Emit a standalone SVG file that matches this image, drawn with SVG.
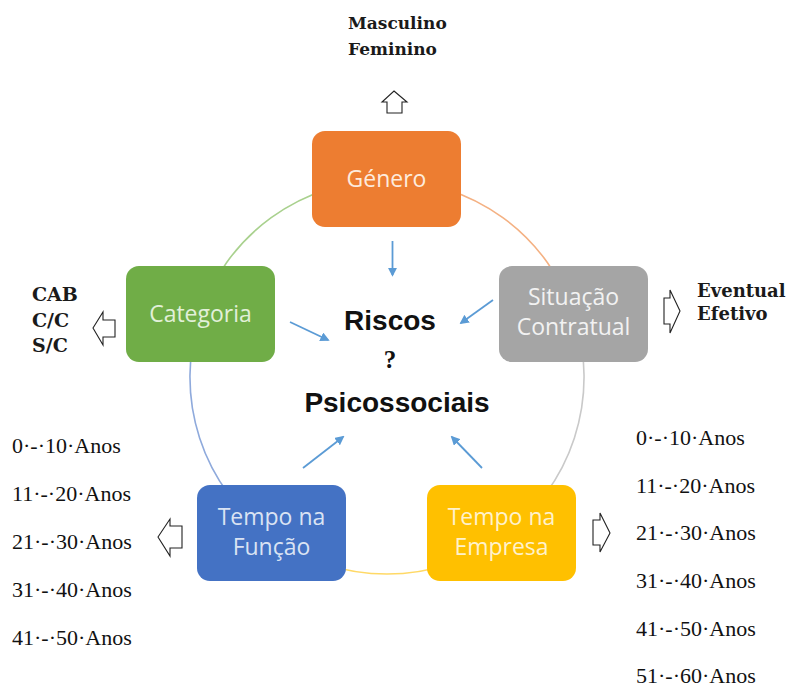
<svg xmlns="http://www.w3.org/2000/svg" width="788" height="688" viewBox="0 0 788 688">
<style>
.box{stroke:none}
.lbl{font-family:"Open Sans","Liberation Sans",sans-serif;font-size:23px;text-anchor:middle}
.arc{fill:none;stroke-width:1.6}
.flow{stroke:#5B9BD5;stroke-width:1.8;fill:none;marker-end:url(#ah)}
.blk{fill:#fff;stroke:#222;stroke-width:1.1;stroke-linejoin:miter}
.bs{font-family:"DejaVu Serif","Liberation Serif",serif;font-weight:bold;fill:#1a1a1a}
.yr{font-family:"Liberation Serif","Times New Roman",serif;font-size:22px;fill:#111}
.ctr{font-family:"Liberation Sans",Arial,sans-serif;font-weight:bold;font-size:28px;fill:#111;text-anchor:middle}
</style>
<defs>
<marker id="ah" viewBox="0 0 10 10" refX="8" refY="5" markerWidth="5.2" markerHeight="5.2" orient="auto" markerUnits="strokeWidth">
<path d="M0,0 L10,5 L0,10 z" fill="#5B9BD5"/>
</marker>
</defs>
<rect width="788" height="688" fill="#fff"/>
<g id="connectors">
<path class="arc" stroke="#F4B183" d="M387 180 A197 197 0 0 1 574.4 316.1"/>
<path class="arc" stroke="#C9C9C9" d="M574.4 316.1 A197 197 0 0 1 502.8 536.4"/>
<path class="arc" stroke="#FFD966" d="M502.8 536.4 A197 197 0 0 1 271.2 536.4"/>
<path class="arc" stroke="#8FAADC" d="M271.2 536.4 A197 197 0 0 1 199.6 316.1"/>
<path class="arc" stroke="#A9D18E" d="M199.6 316.1 A197 197 0 0 1 387 180"/>
<line class="flow" x1="392.5" y1="241" x2="392.5" y2="275"/>
<line class="flow" x1="493" y1="300" x2="461" y2="323"/>
<line class="flow" x1="290" y1="322" x2="328" y2="340"/>
<line class="flow" x1="303" y1="468" x2="343" y2="437"/>
<line class="flow" x1="482" y1="468" x2="452" y2="437"/>
</g>
<g id="genero">
<rect class="box" x="312" y="131" width="149" height="96" rx="13" fill="#ED7D31"/>
<text class="lbl" x="386.5" y="187" fill="#FDEBDD">Género</text>
</g>
<g id="categoria">
<rect class="box" x="126" y="266" width="149" height="96" rx="13" fill="#70AD47"/>
<text class="lbl" x="200.5" y="322" fill="#E2F0D9">Categoria</text>
</g>
<g id="situacao">
<rect class="box" x="499" y="266" width="149" height="96" rx="13" fill="#A5A5A5"/>
<text class="lbl" x="573.5" y="305" fill="#F2F2F2">Situação</text>
<text class="lbl" x="573.5" y="335" fill="#F2F2F2">Contratual</text>
</g>
<g id="funcao">
<rect class="box" x="197" y="485" width="149" height="96" rx="13" fill="#4472C4"/>
<text class="lbl" x="271.5" y="525" fill="#DAE3F3">Tempo na</text>
<text class="lbl" x="271.5" y="555" fill="#DAE3F3">Função</text>
</g>
<g id="empresa">
<rect class="box" x="427" y="485" width="149" height="96" rx="13" fill="#FFC000"/>
<text class="lbl" x="501.5" y="525" fill="#FFF2CC">Tempo na</text>
<text class="lbl" x="501.5" y="555" fill="#FFF2CC">Empresa</text>
</g>
<g id="centro">
<text class="ctr" x="390" y="330">Riscos</text>
<text x="390" y="368" font-family="Liberation Serif,serif" font-weight="bold" font-size="25" fill="#111" text-anchor="middle">?</text>
<text class="ctr" x="397" y="412">Psicossociais</text>
</g>
<g id="genero-opcoes">
<path class="blk" d="M394 91 L407 102 L402 102 L402 113 L387 113 L387 102 L382 102 Z"/>
<text class="bs" font-size="17" x="348" y="29">Masculino</text>
<text class="bs" font-size="17" x="348" y="55">Feminino</text>
</g>
<g id="categoria-opcoes">
<path class="blk" d="M93 328 L103 312 L103 320 L115 320 L115 337 L103 337 L103 345 Z"/>
<text class="bs" font-size="19" x="32" y="301">CAB</text>
<text class="bs" font-size="19" x="32" y="327">C/C</text>
<text class="bs" font-size="19" x="32" y="352">S/C</text>
</g>
<g id="situacao-opcoes">
<path class="blk" d="M680 311 L670 290 L670 298 L664 298 L664 324 L670 324 L670 333 Z"/>
<text class="bs" font-size="18" x="697" y="297">Eventual</text>
<text class="bs" font-size="18" x="697" y="320">Efetivo</text>
</g>
<g id="funcao-opcoes">
<path class="blk" d="M158 537 L170 519 L170 526 L182 526 L182 548 L170 548 L170 556 Z"/>
<text class="yr" x="12" y="453">0·-·10·Anos</text>
<text class="yr" x="12" y="501">11·-·20·Anos</text>
<text class="yr" x="12" y="549">21·-·30·Anos</text>
<text class="yr" x="12" y="597">31·-·40·Anos</text>
<text class="yr" x="12" y="645">41·-·50·Anos</text>
</g>
<g id="empresa-opcoes">
<path class="blk" d="M610 533 L600 513 L600 520 L593 520 L593 545 L600 545 L600 552 Z"/>
<text class="yr" x="636" y="445">0·-·10·Anos</text>
<text class="yr" x="636" y="493">11·-·20·Anos</text>
<text class="yr" x="636" y="540">21·-·30·Anos</text>
<text class="yr" x="636" y="588">31·-·40·Anos</text>
<text class="yr" x="636" y="636">41·-·50·Anos</text>
<text class="yr" x="636" y="683">51·-·60·Anos</text>
</g>
</svg>
